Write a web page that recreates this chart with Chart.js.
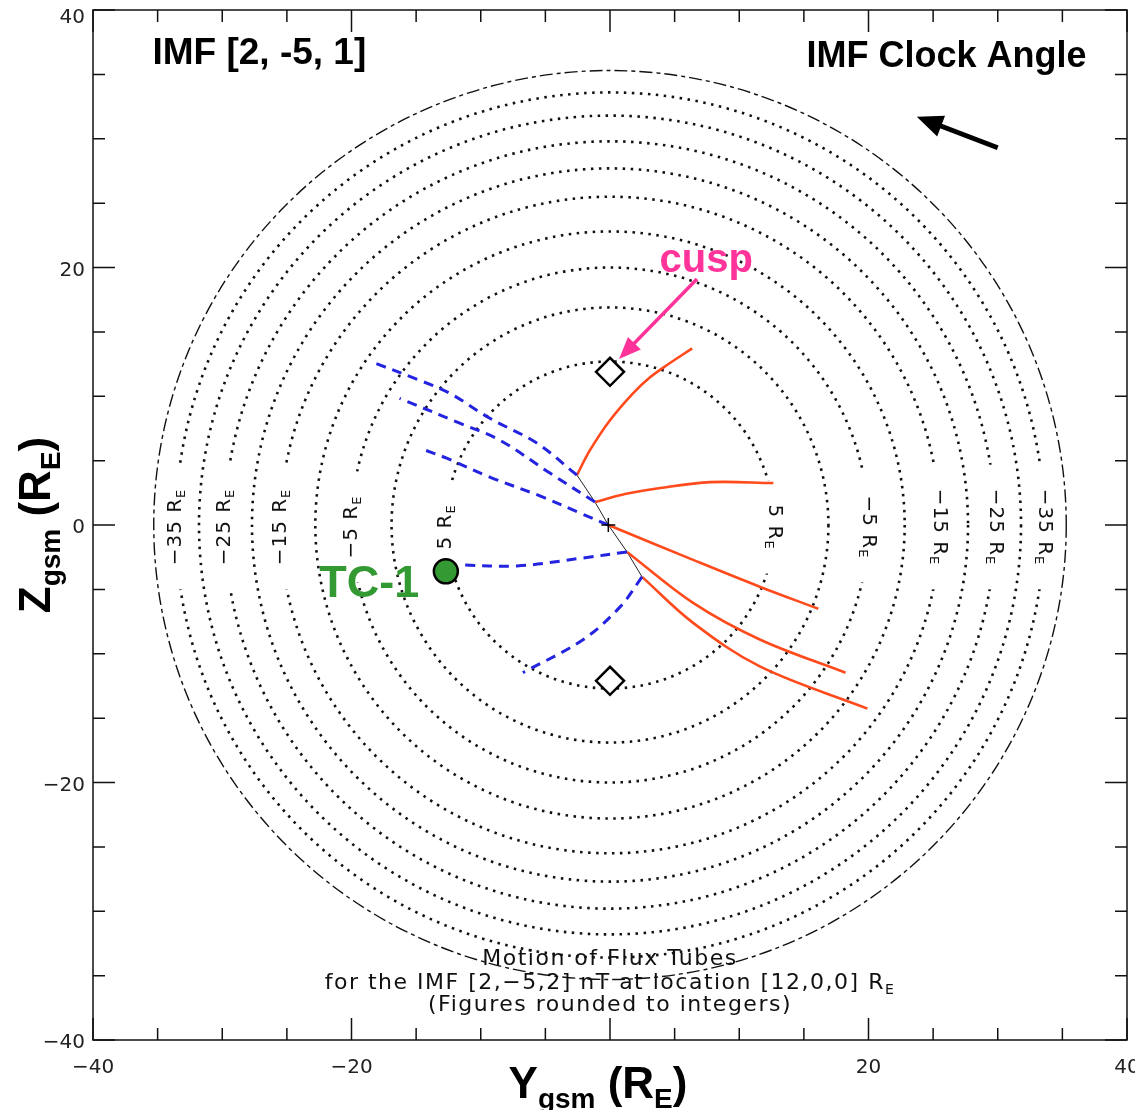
<!DOCTYPE html>
<html>
<head>
<meta charset="utf-8">
<title>Motion of Flux Tubes</title>
<script src="https://cdn.jsdelivr.net/npm/chart.js@4.4.1/dist/chart.umd.min.js"></script>
<style>
    html, body { margin: 0; padding: 0; background: #fff; }
    #chartBox { width: 1135px; height: 1110px; }
</style>
</head>
<body>
<div id="chartBox"><canvas id="chartCanvas" width="1135" height="1110"></canvas></div>
<script>
// magnetopause contours (X level in R_E) and their radius in the Y-Z plane
const contourLevels = [5, 0, -5, -10, -15, -20, -25, -30, -35, -40];
const contourRadii = [12.7, 16.9, 20.0, 22.8, 25.5, 27.7, 29.8, 31.8, 33.6, 35.3];
const labelledLevels = [5, -5, -15, -25, -35];

// thin reconnection line and the flux tube footpoints on it
const reconLine = [[-2.56, 3.88], [-1.16, 1.78], [-0.13, 0.0], [1.32, -2.09], [2.48, -4.03]];

// tailward-moving parts (solid orange)
const orangeTubes = [
    [[-2.56, 3.88], [-1.55, 5.81], [0.0, 8.14], [1.78, 10.23], [3.10, 11.47], [4.42, 12.43], [6.36, 13.72]],
    [[-1.16, 1.78], [1.16, 2.40], [3.88, 2.87], [7.75, 3.33], [12.64, 3.26]],
    [[-0.13, 0.0], [6.43, -2.71], [11.63, -4.81], [16.12, -6.51]],
    [[1.32, -2.09], [6.43, -6.05], [11.63, -8.91], [18.22, -11.47]],
    [[2.48, -4.03], [6.43, -7.60], [11.63, -11.0], [19.92, -14.26]]
];

// other parts (dashed blue)
const blueTubes = [
    [[-2.56, 3.88], [-5.66, 6.36], [-9.30, 8.29], [-12.4, 10.23], [-14.73, 11.24], [-18.37, 12.64]],
    [[-1.16, 1.78], [-4.65, 4.03], [-8.53, 6.59], [-11.63, 7.91], [-16.28, 9.84]],
    [[-0.13, 0.0], [-2.33, 0.93], [-5.19, 2.17], [-9.30, 3.72], [-12.64, 5.19], [-14.73, 5.97]],
    [[1.32, -2.09], [-2.09, -2.56], [-7.21, -3.18], [-11.63, -3.10]],
    [[2.48, -4.03], [0.78, -6.36], [-2.09, -8.91], [-6.74, -11.47]]
];

const cuspPoints = [[0, 11.9], [0, -12.1]];
const tc1Point = [[-12.7, -3.6]];
const crossPoint = [[-0.13, 0.0]];

const xTickLabels = [-40, -20, 20, 40];
const yTickLabels = [-40, -20, 0, 20, 40];

const toXY = arr => arr.map(p => ({ x: p[0], y: p[1] }));

const FONT = '"Liberation Sans", Arial, sans-serif';
const THIN = '"DejaVu Sans", sans-serif';

const fmt = v => (v < 0 ? '\u2212' + Math.abs(v) : String(v));

const drawRich = (ctx, parts, x, y, align) => {
    let total = 0;
    parts.forEach(p => { ctx.font = p.font; p.w = ctx.measureText(p.t).width; total += p.w; });
    let cx = align === 'center' ? x - total / 2 : (align === 'right' ? x - total : x);
    ctx.textAlign = 'left';
    parts.forEach(p => {
        ctx.font = p.font;
        ctx.fillText(p.t, cx, y + (p.dy || 0));
        cx += p.w;
    });
    return total;
};

const drawArrow = (ctx, x1, y1, x2, y2, width, headLen, headW, color) => {
    const ang = Math.atan2(y2 - y1, x2 - x1);
    const bx = x2 - Math.cos(ang) * headLen * 0.8;
    const by = y2 - Math.sin(ang) * headLen * 0.8;
    ctx.save();
    ctx.strokeStyle = color;
    ctx.fillStyle = color;
    ctx.lineWidth = width;
    ctx.beginPath();
    ctx.moveTo(x1, y1);
    ctx.lineTo(bx, by);
    ctx.stroke();
    ctx.beginPath();
    ctx.moveTo(x2, y2);
    ctx.lineTo(x2 - Math.cos(ang) * headLen + Math.sin(ang) * headW / 2,
               y2 - Math.sin(ang) * headLen - Math.cos(ang) * headW / 2);
    ctx.lineTo(x2 - Math.cos(ang) * headLen - Math.sin(ang) * headW / 2,
               y2 - Math.sin(ang) * headLen + Math.cos(ang) * headW / 2);
    ctx.closePath();
    ctx.fill();
    ctx.restore();
};

const overlayPlugin = {
    id: 'overlay',
    beforeDatasetsDraw(chart) {
        const { ctx, scales: { x, y } } = chart;
        const cx = x.getPixelForValue(0);
        const cy = y.getPixelForValue(0);
        ctx.save();
        ctx.strokeStyle = '#111';
        contourRadii.forEach((r, i) => {
            const rx = x.getPixelForValue(r) - cx;
            const ry = cy - y.getPixelForValue(r);
            if (i === contourRadii.length - 1) {
                ctx.setLineDash([13, 4, 4, 4]);
                ctx.lineWidth = 1.4;
            } else {
                ctx.setLineDash([2.5, 5.5]);
                ctx.lineWidth = 2.6;
            }
            ctx.beginPath();
            ctx.ellipse(cx, cy, rx, ry, 0, 0, Math.PI * 2);
            ctx.stroke();
        });
        ctx.setLineDash([]);

        // contour labels, each one breaking its own contour
        contourLevels.forEach((lev, i) => {
            if (!labelledLevels.includes(lev)) return;
            const txt = fmt(lev) + ' R';
            [-1, 1].forEach(side => {
                const px = x.getPixelForValue(side * contourRadii[i]);
                ctx.save();
                ctx.translate(px, cy + 2);
                ctx.rotate(side < 0 ? -Math.PI / 2 : Math.PI / 2);
                ctx.letterSpacing = '1px';
                ctx.font = '20px ' + THIN;
                const w1 = ctx.measureText(txt).width;
                ctx.font = '13px ' + THIN;
                const w = w1 + ctx.measureText('E').width;
                ctx.fillStyle = '#fff';
                ctx.fillRect(-w / 2 - 24, -12, w + 48, 24);
                ctx.fillStyle = '#111';
                ctx.textBaseline = 'middle';
                drawRich(ctx, [
                    { t: txt, font: '20px ' + THIN },
                    { t: 'E', font: '13px ' + THIN, dy: 6 }
                ], 0, 0, 'center');
                ctx.restore();
            });
        });
        ctx.restore();
    },
    afterDatasetsDraw(chart) {
        const { ctx, chartArea: a, scales: { x, y } } = chart;
        ctx.save();

        // frame and inward ticks
        ctx.strokeStyle = '#111';
        ctx.lineWidth = 1.5;
        ctx.strokeRect(a.left, a.top, a.right - a.left, a.bottom - a.top);
        for (let v = -40; v <= 40; v += 5) {
            const len = v % 20 === 0 ? 22 : 12;
            const px = x.getPixelForValue(v);
            const py = y.getPixelForValue(v);
            ctx.beginPath();
            ctx.moveTo(px, a.bottom); ctx.lineTo(px, a.bottom - len);
            ctx.moveTo(px, a.top); ctx.lineTo(px, a.top + len);
            ctx.moveTo(a.left, py); ctx.lineTo(a.left + len, py);
            ctx.moveTo(a.right, py); ctx.lineTo(a.right - len, py);
            ctx.stroke();
        }

        // tick labels
        ctx.fillStyle = '#222';
        ctx.font = '20px ' + THIN;
        ctx.textBaseline = 'middle';
        ctx.textAlign = 'center';
        xTickLabels.forEach(v => ctx.fillText(fmt(v), x.getPixelForValue(v), a.bottom + 28));
        ctx.textAlign = 'right';
        yTickLabels.forEach(v => ctx.fillText(fmt(v), a.left - 8, Math.max(y.getPixelForValue(v) + 3, a.top + 8)));

        // corner annotations
        ctx.fillStyle = '#000';
        ctx.textBaseline = 'alphabetic';
        ctx.textAlign = 'left';
        ctx.font = 'bold 37px ' + FONT;
        ctx.fillText('IMF [2, -5, 1]', x.getPixelForValue(-35.4), y.getPixelForValue(35.8));
        ctx.font = 'bold 36px ' + FONT;
        ctx.fillText('IMF Clock Angle', x.getPixelForValue(15.2), y.getPixelForValue(35.57));
        drawArrow(ctx, x.getPixelForValue(30.0), y.getPixelForValue(29.3),
                  x.getPixelForValue(23.74), y.getPixelForValue(31.7), 5, 26, 22, '#000');

        // cusp
        ctx.fillStyle = '#ff3399';
        ctx.font = 'bold 40px ' + FONT;
        ctx.textAlign = 'center';
        ctx.fillText('cusp', x.getPixelForValue(7.45), y.getPixelForValue(19.65));
        drawArrow(ctx, x.getPixelForValue(6.73), y.getPixelForValue(19.1),
                  x.getPixelForValue(0.70), y.getPixelForValue(12.9), 3.5, 22, 18, '#ff3399');

        // TC-1
        ctx.fillStyle = '#339933';
        ctx.font = 'bold 45px ' + FONT;
        ctx.textAlign = 'right';
        ctx.fillText('TC-1', x.getPixelForValue(-14.75), y.getPixelForValue(-5.6));

        // caption inside the plot
        ctx.fillStyle = '#111';
        ctx.letterSpacing = '1.5px';
        const capX = x.getPixelForValue(0);
        drawRich(ctx, [{ t: 'Motion of Flux Tubes', font: '22px ' + THIN }],
                 capX, y.getPixelForValue(-34.2), 'center');
        drawRich(ctx, [
            { t: 'for the IMF [2,\u22125,2] nT at location [12,0,0] R', font: '22px ' + THIN },
            { t: 'E', font: '14px ' + THIN, dy: 5 }
        ], capX, y.getPixelForValue(-36.0), 'center');
        drawRich(ctx, [{ t: '(Figures rounded to integers)', font: '22px ' + THIN }],
                 capX, y.getPixelForValue(-37.75), 'center');
        ctx.letterSpacing = '0px';

        // axis titles
        ctx.fillStyle = '#000';
        ctx.textBaseline = 'alphabetic';
        const titleParts = () => [
            { t: 'Y', font: 'bold 44px ' + FONT },
            { t: 'gsm', font: 'bold 28px ' + FONT, dy: 10 },
            { t: ' (R', font: 'bold 44px ' + FONT },
            { t: 'E', font: 'bold 28px ' + FONT, dy: 10 },
            { t: ')', font: 'bold 44px ' + FONT }
        ];
        drawRich(ctx, titleParts(), 598, 1098, 'center');
        const zParts = titleParts();
        zParts[0].t = 'Z';
        ctx.save();
        ctx.translate(50, (a.top + a.bottom) / 2);
        ctx.rotate(-Math.PI / 2);
        drawRich(ctx, zParts, 0, 0, 'center');
        ctx.restore();

        ctx.restore();
    }
};

const datasets = [];
datasets.push({
    data: toXY(crossPoint), showLine: false, pointStyle: 'cross', pointRadius: 7,
    borderColor: '#000', borderWidth: 1.5, order: 0
});
datasets.push({
    data: toXY(tc1Point), showLine: false, pointStyle: 'circle', pointRadius: 12,
    backgroundColor: '#339933', borderColor: '#000', borderWidth: 2.5, order: 0
});
datasets.push({
    data: toXY(cuspPoints), showLine: false, pointStyle: 'rectRot', pointRadius: 14,
    backgroundColor: '#fff', borderColor: '#000', borderWidth: 2.5, order: 0
});
blueTubes.forEach(t => datasets.push({
    data: toXY(t), showLine: true, pointRadius: 0, borderColor: '#2424e0', borderWidth: 3,
    borderDash: [10, 7], tension: 0.35, order: 1
}));
orangeTubes.forEach(t => datasets.push({
    data: toXY(t), showLine: true, pointRadius: 0, borderColor: '#ff4a1c', borderWidth: 2.6,
    tension: 0.35, order: 2
}));
datasets.push({
    data: toXY(reconLine), showLine: true, pointRadius: 0, borderColor: '#222', borderWidth: 1,
    tension: 0, order: 3
});

new Chart(document.getElementById('chartCanvas'), {
    type: 'scatter',
    data: { datasets },
    options: {
        responsive: false,
        animation: false,
        devicePixelRatio: 1,
        layout: { autoPadding: false, padding: { left: 0, top: 10, right: 8, bottom: 0 } },
        plugins: { legend: { display: false }, tooltip: { enabled: false } },
        scales: {
            x: {
                type: 'linear', min: -40, max: 40,
                grid: { display: false, drawTicks: false },
                border: { display: false },
                ticks: { display: false },
                afterFit: s => { s.height = 70; }
            },
            y: {
                type: 'linear', min: -40, max: 40,
                grid: { display: false, drawTicks: false },
                border: { display: false },
                ticks: { display: false },
                afterFit: s => { s.width = 93; }
            }
        }
    },
    plugins: [overlayPlugin]
});
</script>
</body>
</html>
